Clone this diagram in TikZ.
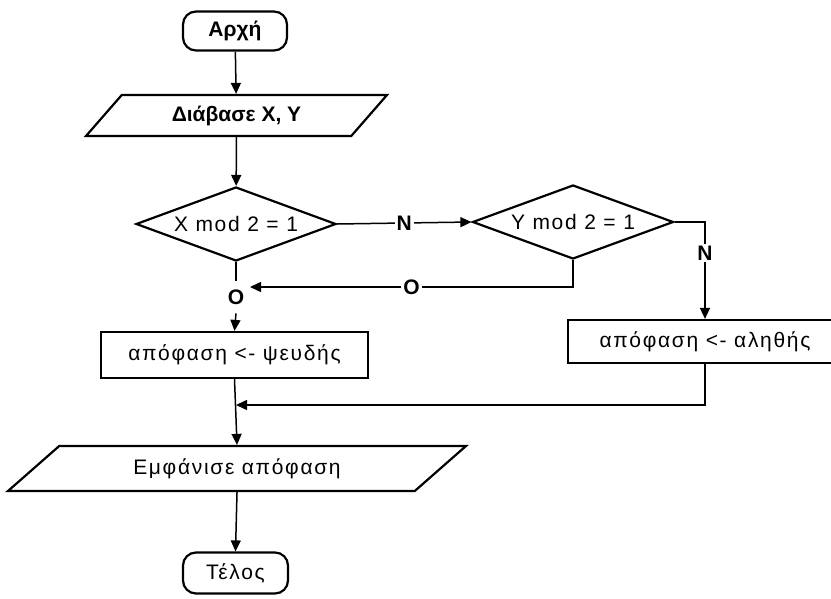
\documentclass[tikz,border=0pt]{standalone}
\usepackage{fontspec}
\setmainfont{Liberation Sans}
\newfontfamily\widefont[LetterSpace=8]{Liberation Sans}
\usetikzlibrary{shapes.geometric,arrows.meta}
\begin{document}
\begin{tikzpicture}[x=1pt,y=-1pt,
  font=\fontsize{21}{24}\widefont,
  boldtext/.style={font=\fontsize{21}{24}\selectfont\bfseries},
  shapeline/.style={draw=black,line width=2.2pt,fill=white},
  term/.style={shapeline,rectangle,rounded corners=13pt,inner sep=0pt},
  io/.style={shapeline,trapezium,trapezium stretches body,inner sep=0pt},
  decision/.style={shapeline,diamond,aspect=2.7,inner sep=0pt},
  proc/.style={shapeline,rectangle,inner sep=0pt},
  conn/.style={line width=1.5pt,-{Triangle[length=11pt,width=10pt]}},
  plain/.style={line width=1.5pt},
  lbl/.style={boldtext,fill=white,inner sep=2pt}]
\useasboundingbox (0,0) rectangle (831,599);
\clip (0,0) rectangle (831,599);
\node[term,boldtext,minimum width=104pt,minimum height=39pt] (start) at (235,31) {Αρχή};
\node[io,boldtext,minimum width=301pt,minimum height=41pt,trapezium left angle=29,trapezium right angle=151] (read) at (236.5,115.5) {Διάβασε Χ, Υ};
\node[decision,minimum width=200pt,minimum height=74pt] (d1) at (236,224) {X mod 2 = 1};
\node[decision,minimum width=201pt,minimum height=74pt] (d2) at (573,222) {Y mod 2 = 1};
\node[boldtext,inner sep=0pt,outer sep=9pt] (olab) at (236,297) {O};
\node[proc,minimum width=267pt,minimum height=46pt] (r1) at (234.5,355) {απόφαση <- ψευδής};
\node[proc,minimum width=274pt,minimum height=43pt] (r2) at (705,341.5) {απόφαση <- αληθής};
\node[io,minimum width=458pt,minimum height=45pt,trapezium left angle=21.5,trapezium right angle=158.5] (out) at (237,468.5) {Εμφάνισε απόφαση};
\node[term,minimum width=105pt,minimum height=41pt] (end) at (235.5,573) {Τέλος};
\coordinate (oin) at (250,287);
\coordinate (merge) at (236,405);
\draw[conn] (start) -- (read);
\draw[conn] (read) -- (d1);
\draw[conn] (d1.east) -- node[lbl] {N} (d2.west);
\draw[plain] (d1.south) -- (olab.north);
\draw[conn] (olab.south) -- (r1.north);
\draw[conn] (d2.south) |- node[lbl,pos=0.75] {O} (oin);
\draw[conn] (d2.east) -| node[lbl,pos=0.66] {N} (r2.north);
\draw[conn] (r2.south) |- (merge);
\draw[conn] (r1.south) -- (out.north);
\draw[conn] (out.south) -- (end.north);
\end{tikzpicture}
\end{document}
